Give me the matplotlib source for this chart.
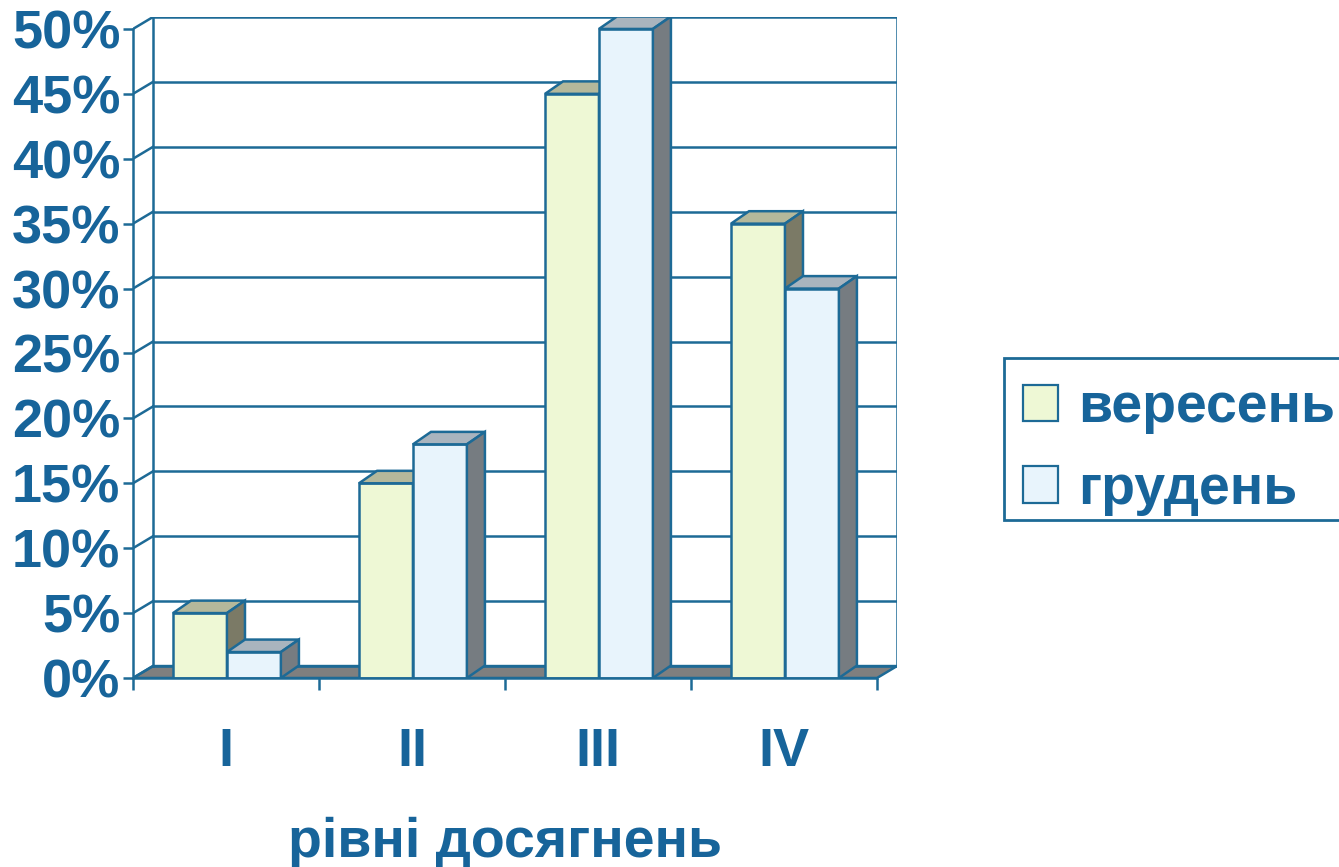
import numpy as np
import matplotlib
matplotlib.use("Agg")
import matplotlib.pyplot as plt
from matplotlib.patches import Patch, Rectangle
from matplotlib.transforms import blended_transform_factory

# data
levels = ["I", "II", "III", "IV"]
series = ["вересень", "грудень"]
sept = [5, 15, 45, 35]
dec = [2, 18, 50, 30]
yticks = [0, 5, 10, 15, 20, 25, 30, 35, 40, 45, 50]

EDGE = "#1d6a96"
TXT = "#17649a"
FRONT = ["#eef8d5", "#e8f4fc"]
TOP = ["#b4b89b", "#a9b4be"]
SIDE = ["#7b7a66", "#767c81"]
FLOOR = "#7f7f7f"
LW = 1.8

plt.rcParams["font.family"] = ["Liberation Sans", "DejaVu Sans"]
plt.rcParams["font.weight"] = "bold"

W, H = 1339, 867
fig = plt.figure(figsize=(W / 100, H / 100), dpi=100)
ax = fig.add_axes([133 / W, (H - 678) / H, (897 - 133) / W, (678 - 17) / H])

WX, WY = 0.1075, 0.92      # wall depth (data units)
BX, BY = 0.097, 0.96       # bar depth
BW = 0.29                  # bar width
OFF = 0.215                # gap before first bar in a category
ncat = len(levels)

ax.set_xlim(0, ncat + WX)
ax.set_ylim(0, max(yticks) + WY)

# floor
ax.fill([0, ncat, ncat + WX, WX], [0, 0, WY, WY], facecolor=FLOOR,
        edgecolor=EDGE, lw=LW, zorder=1)
# back wall grid + left wall diagonals
for v in yticks:
    ax.plot([WX, ncat + WX], [v + WY, v + WY], color=EDGE, lw=LW, zorder=1)
    ax.plot([0, WX], [v, v + WY], color=EDGE, lw=LW, zorder=1)
top = max(yticks)
ax.plot([WX, WX], [WY, top + WY], color=EDGE, lw=LW, zorder=1)
ax.plot([ncat + WX, ncat + WX], [WY, top + WY], color=EDGE, lw=LW, zorder=1)

# bars with fake 3d faces
x = np.arange(ncat)
for k, vals in enumerate([sept, dec]):
    left = x + OFF + k * BW
    ax.bar(left, vals, width=BW, align="edge", color=FRONT[k],
           edgecolor=EDGE, lw=LW, zorder=3 + k)
    for xl, h in zip(left, vals):
        ax.fill([xl, xl + BW, xl + BW + BX, xl + BX], [h, h, h + BY, h + BY],
                facecolor=TOP[k], edgecolor=EDGE, lw=LW, zorder=3 + k)
        ax.fill([xl + BW, xl + BW + BX, xl + BW + BX, xl + BW],
                [0, BY, h + BY, h], facecolor=SIDE[k], edgecolor=EDGE,
                lw=LW, zorder=3 + k)

for s in ["top", "right"]:
    ax.spines[s].set_visible(False)
ax.spines["left"].set_bounds(0, top)
ax.spines["bottom"].set_bounds(0, ncat)
for s in ["left", "bottom"]:
    ax.spines[s].set_color(EDGE)
    ax.spines[s].set_linewidth(LW)
    ax.spines[s].set_zorder(6)

ax.set_yticks(yticks)
ax.set_yticklabels([f"{v}%" for v in yticks])
ax.tick_params(axis="y", length=7.2, width=LW, color=EDGE, pad=2,
               labelsize=39, labelcolor=TXT)
ax.set_xticks(np.arange(ncat + 1))
ax.set_xticklabels([])
ax.set_xticks(x + 0.5, minor=True)
ax.set_xticklabels(levels, minor=True)
ax.tick_params(axis="x", which="major", length=8.6, width=LW, color=EDGE)
ax.tick_params(axis="x", which="minor", length=0, pad=35,
               labelsize=39, labelcolor=TXT)

tr = blended_transform_factory(ax.transData, fig.transFigure)
ax.text(ncat / 2, (H - 857) / H, "рівні досягнень", transform=tr,
        ha="center", va="baseline", fontsize=40, color=TXT)

# legend (frame drawn separately, it runs off the right edge)
fig.patches.append(Rectangle((1004 / W, 1 - 520 / H), 360 / W, 162 / H,
                             transform=fig.transFigure, facecolor="white",
                             edgecolor=EDGE, lw=2, zorder=0))
handles = [Patch(facecolor=FRONT[k], edgecolor=EDGE, lw=1.6) for k in range(2)]
leg = fig.legend(handles, series, loc="upper left",
                 bbox_to_anchor=(1004 / W, 1 - 363 / H), fontsize=40,
                 frameon=False, handlelength=0.63,
                 handleheight=0.63, handletextpad=0.36, labelspacing=0.53,
                 borderpad=0.35, borderaxespad=0)
for t in leg.get_texts():
    t.set_color(TXT)

fig.savefig("out.png", dpi=100)
